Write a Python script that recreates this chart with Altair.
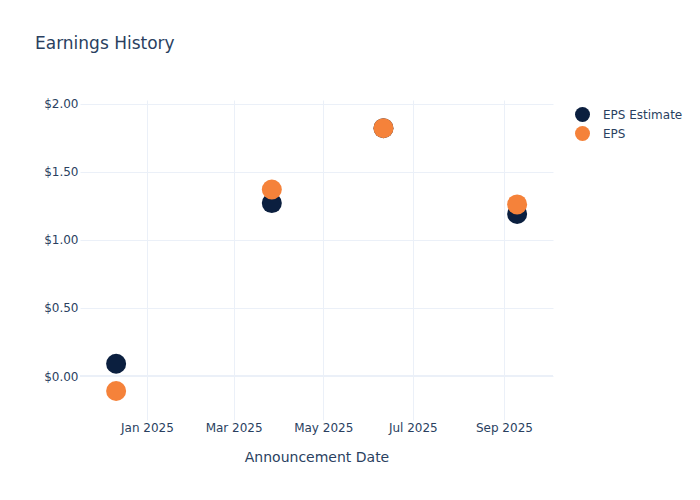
import altair as alt
import pandas as pd

# Data
dates = ["2024-12-11", "2025-03-27", "2025-06-11", "2025-09-10"]
eps_estimate = [0.09, 1.27, 1.82, 1.19]
eps_actual = [-0.11, 1.37, 1.82, 1.26]
series = ["EPS Estimate", "EPS"]
colors = ["#0b1f3f", "#f5823a"]

rows = []
for d, v in zip(dates, eps_estimate):
    rows.append({"date": d, "value": v, "series": series[0]})
for d, v in zip(dates, eps_actual):
    rows.append({"date": d, "value": v, "series": series[1]})
df = pd.DataFrame(rows)

FONT = "DejaVu Sans"
TXT = "#2a3f5f"
GRID = "#ebf0f8"

x_ticks = [alt.DateTime(year=2025, month=m, date=1, utc=True) for m in [1, 3, 5, 7, 9]]

x_enc = alt.X(
    "date:T",
    scale=alt.Scale(
        type="utc",
        domain=[
            alt.DateTime(year=2024, month=11, date=16, hours=10, utc=True),
            alt.DateTime(year=2025, month=10, date=4, hours=10, utc=True),
        ],
    ),
    axis=alt.Axis(
        title="Announcement Date",
        values=x_ticks,
        format="%b %Y",
        labelFont=FONT,
        labelFontSize=12,
        labelColor=TXT,
        labelBaseline="alphabetic",
        labelPadding=11,
        labelFlush=False,
        labelOverlap=False,
        ticks=False,
        domain=False,
        grid=True,
        gridColor=GRID,
        gridWidth=1,
        titleFont=FONT,
        titleFontSize=14,
        titleFontWeight="normal",
        titleColor=TXT,
        titleBaseline="alphabetic",
        titleY=41,
    ),
)

y_axis = alt.Axis(
    title=None,
    values=[0, 0.5, 1, 1.5, 2],
    format="$.2f",
    labelFont=FONT,
    labelFontSize=12,
    labelColor=TXT,
    labelPadding=2,
    ticks=False,
    domain=False,
    grid=True,
    gridColor=GRID,
    gridWidth=1,
)
y_scale = alt.Scale(domain=[-0.323, 2.027], nice=False, zero=False)

zero_df = pd.DataFrame({"value": [0]})
zero_line = alt.Chart(zero_df).mark_rule(color=GRID, strokeWidth=2).encode(
    y=alt.Y("value:Q", scale=y_scale, axis=y_axis)
)

points = alt.Chart(df).mark_circle(size=400, opacity=1).encode(
    x=x_enc,
    y=alt.Y("value:Q", scale=y_scale, axis=y_axis),
    color=alt.Color(
        "series:N",
        scale=alt.Scale(domain=series, range=colors),
        legend=alt.Legend(
            title=None,
            orient="none",
            legendX=495,
            legendY=7,
            padding=0,
            symbolType="circle",
            symbolSize=225,
            symbolOpacity=1,
            symbolStrokeWidth=0,
            labelFont=FONT,
            labelFontSize=12,
            labelColor=TXT,
            labelOffset=13,
            rowPadding=4,
        ),
    ),
    order=alt.Order("order_key:Q"),
).transform_calculate(order_key="datum.series == 'EPS' ? 1 : 0")

chart = (
    alt.layer(zero_line, points)
    .properties(
        width=473,
        height=320,
        autosize=alt.AutoSizeParams(type="none"),
        padding={"left": 72, "top": 92, "right": 139, "bottom": 72},
        view=alt.ViewBackground(strokeOpacity=0, strokeWidth=0),
        title=alt.TitleParams(
            text="Earnings History",
            anchor="start",
            frame="group",
            font=FONT,
            fontSize=17,
            fontWeight="normal",
            color=TXT,
            dx=-45,
            offset=45,
        ),
    )
    .configure_view(strokeOpacity=0, strokeWidth=0)
    .configure(background="white")
)

chart.save("out.html", embed_options={"renderer": "svg", "actions": False})
